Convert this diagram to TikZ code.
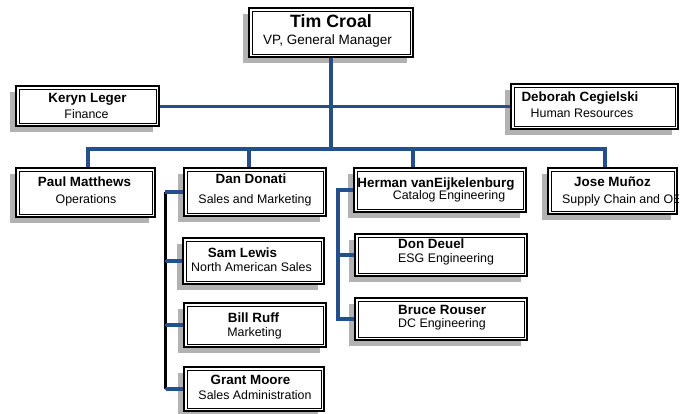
\documentclass[tikz,border=0pt]{standalone}
\usepackage{fontspec}
\setmainfont{Liberation Sans}
\usetikzlibrary{positioning,arrows.meta,shadows}
\definecolor{orgblue}{RGB}{38,78,138}
\definecolor{shade}{RGB}{178,178,178}

\begin{document}
\begin{tikzpicture}[x=1pt, y=-1pt]
  \tikzset{
    card/.style={draw, line width=2pt, fill=white, inner sep=0pt,
      drop shadow={shadow xshift=-6pt, shadow yshift=-6pt, fill=shade, opacity=1},
      path picture={\draw[line width=0.8pt]
        ([shift={(3pt,3pt)}]path picture bounding box.south west) rectangle
        ([shift={(-3pt,-3pt)}]path picture bounding box.north east);}},
    pname/.style={font=\bfseries\fontsize{13.4}{15}\selectfont, inner sep=0pt, anchor=base},
    ptitle/.style={font=\fontsize{12.4}{14}\selectfont, inner sep=0pt, anchor=base},
    link/.style={draw=orgblue, line width=3.5pt},
    spine/.style={draw=black, line width=3pt},
    stub/.style={link, {Circle[length=4pt]}-}
  }
  \fill[white] (0,0) rectangle (682,414);
  \useasboundingbox (0,0) rectangle (682,414);
  \coordinate (bus) at (331,149);

  % boxes
  \node[card, minimum width=164, minimum height=49] (tim)     at (331,32.5)  {};
  \node[card, minimum width=143, minimum height=40] (keryn)   at (87.5,106.5) {};
  \node[card, minimum width=167, minimum height=45] (deborah) at (594.5,106.5) {};

  % connectors
  \draw[link] (keryn) -- (deborah);
  \draw[link] (tim.south) -- (tim.south |- bus);

  \node[card, minimum width=139, minimum height=49] (paul)   at (85.5,192.5) {};
  \node[card, minimum width=142, minimum height=48] (dan)    at (255,192)   {};
  \node[card, minimum width=172, minimum height=44] (herman) at (440,190)   {};
  \node[card, minimum width=129, minimum height=46] (jose)   at (612.5,191) {};
  \node[card, minimum width=141, minimum height=46] (sam)    at (253.5,261) {};
  \node[card, minimum width=142, minimum height=44] (bill)   at (255,325)   {};
  \node[card, minimum width=140, minimum height=44] (grant)  at (254,389)   {};
  \node[card, minimum width=172, minimum height=42] (don)    at (441,255)   {};
  \node[card, minimum width=172, minimum height=42] (bruce)  at (441,319)   {};

  \draw[link] ([xshift=2.5pt]paul.north) -- ([xshift=2.5pt]paul.north |- bus)
    -| ([xshift=-7.5pt]jose.north);
  \draw[link] ([xshift=-6pt]dan.north) -- ([xshift=-6pt]dan.north |- bus);
  \draw[link] ([xshift=-27pt]herman.north) -- ([xshift=-27pt]herman.north |- bus);

  % sales group
  \draw[spine] ([xshift=-18pt]dan.west) -- ([xshift=-18pt]dan.west |- grant.west);
  \draw[link] ([xshift=-18pt]dan.west) -- (dan.west);
  \draw[stub] ([xshift=-18pt]dan.west |- sam.west) -- (sam.west);
  \draw[stub] ([xshift=-18pt]dan.west |- bill.west) -- (bill.west);
  \draw[stub] ([xshift=-18pt]dan.west |- grant.west) -- (grant.west);

  % engineering group
  \draw[link] (herman.west) -| ([xshift=-16pt]bruce.west) -- (bruce.west);
  \draw[stub] ([xshift=-16pt]don.west) -- (don.west);

  % texts
  \node[pname, font=\bfseries\fontsize{17.8}{20}\selectfont] (timN) at (331,28) {Tim Croal};
  \node[ptitle, font=\fontsize{13.5}{15}\selectfont] (timT) at (327.5,45) {VP, General Manager};
  \node[pname]  (kerynN)   at (87.5,103)  {Keryn Leger};
  \node[ptitle] (kerynT)   at (86.5,119)  {Finance};
  \node[pname]  (deborahN) at (580,102)   {Deborah Cegielski};
  \node[ptitle] (deborahT) at (582,118)   {Human Resources};
  \node[pname]  (paulN)    at (84.5,186)  {Paul Matthews};
  \node[ptitle] (paulT)    at (86,204)    {Operations};
  \node[pname]  (danN)     at (251,184)   {Dan Donati};
  \node[ptitle] (danT)     at (255,203)   {Sales and Marketing};
  \node[pname]  (hermanN)  at (436,187)   {Herman vanEijkelenburg};
  \node[ptitle] (hermanT)  at (449,200)   {Catalog Engineering};
  \node[pname]  (joseN)    at (612.5,186) {Jose Muñoz};
  \begin{scope}
    \clip ([shift={(3pt,3pt)}]jose.south west) rectangle ([shift={(0.5pt,-3pt)}]jose.north east);
    \node[ptitle, anchor=base west] (joseT) at (562,203) {Supply Chain and OE};
  \end{scope}
  \node[pname]  (samN)     at (242.5,257) {Sam Lewis};
  \node[ptitle] (samT)     at (251.5,271) {North American Sales};
  \node[pname]  (billN)    at (253.5,322) {Bill Ruff};
  \node[ptitle] (billT)    at (254.5,336) {Marketing};
  \node[pname]  (grantN)   at (250.5,384) {Grant Moore};
  \node[ptitle] (grantT)   at (255,399)   {Sales Administration};
  \node[pname, anchor=base west]  (donN)   at (398,248) {Don Deuel};
  \node[ptitle, anchor=base west] (donT)   at (398,262) {ESG Engineering};
  \node[pname, anchor=base west]  (bruceN) at (398,314) {Bruce Rouser};
  \node[ptitle, anchor=base west] (bruceT) at (398,327) {DC Engineering};
\end{tikzpicture}
\end{document}
